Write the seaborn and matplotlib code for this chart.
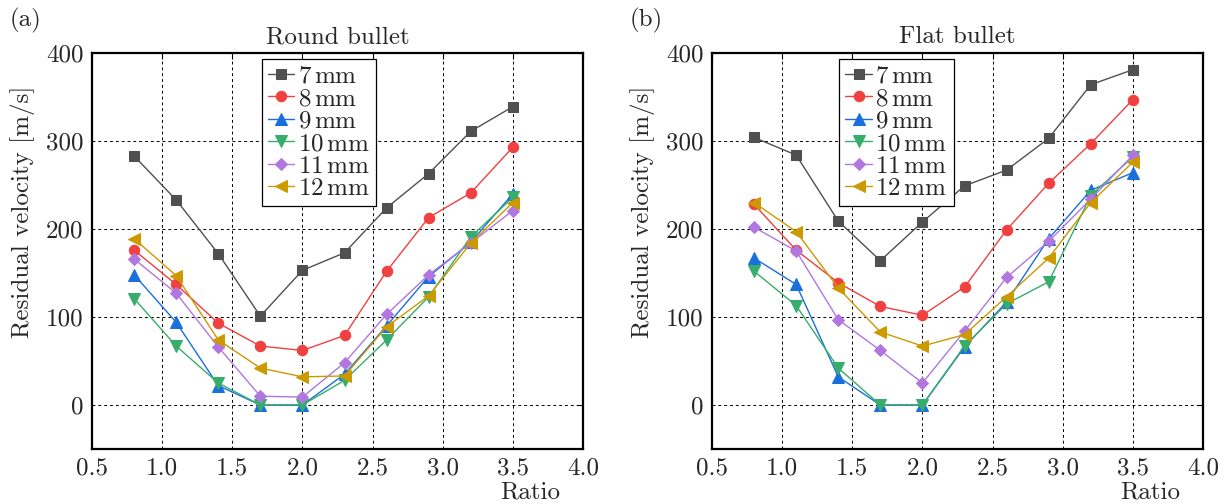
import matplotlib
matplotlib.use("Agg")
import matplotlib.pyplot as plt
import seaborn as sns
import numpy as np
import pandas as pd

ratio = [0.8, 1.1, 1.4, 1.7, 2.0, 2.3, 2.6, 2.9, 3.2, 3.5]
labels = ["7$\\,$mm", "8$\\,$mm", "9$\\,$mm", "10$\\,$mm", "11$\\,$mm", "12$\\,$mm"]

round_7 = [283, 233, 172, 101, 153, 173, 224, 263, 311, 339]
round_8 = [176, 137, 93, 67, 62, 79, 152, 213, 241, 293]
round_9 = [148, 94, 22, 0, 0, 35, 90, 146, 185, 240]
round_10 = [121, 67, 25, 0, 0, 28, 74, 123, 191, 236]
round_11 = [166, 127, 66, 10, 9, 48, 103, 148, 184, 221]
round_12 = [189, 147, 74, 42, 32, 33, 89, 124, 184, 230]

flat_7 = [304, 284, 209, 164, 208, 249, 267, 303, 364, 381]
flat_8 = [228, 176, 139, 112, 102, 134, 199, 252, 297, 347]
flat_9 = [167, 137, 32, 0, 0, 66, 117, 189, 244, 264]
flat_10 = [152, 113, 42, 0, 0, 67, 115, 140, 238, 282]
flat_11 = [202, 175, 97, 62, 25, 84, 145, 186, 234, 284]
flat_12 = [230, 197, 133, 83, 67, 80, 123, 167, 230, 276]

round_series = [round_7, round_8, round_9, round_10, round_11, round_12]
flat_series = [flat_7, flat_8, flat_9, flat_10, flat_11, flat_12]

colors = ["#505050", "#f14040", "#1a6fdf", "#37ad6b", "#b177de", "#cc9900"]
markers = ["s", "o", "^", "v", "D", "<"]
msizes = [7, 7.5, 8, 8, 6.5, 8]

sns.set_theme(style="white")
plt.rcParams["font.family"] = ["cmr10", "DejaVu Serif"]
plt.rcParams["mathtext.fontset"] = "cm"
plt.rcParams["axes.formatter.use_mathtext"] = True
plt.rcParams["axes.unicode_minus"] = False

fig = plt.figure(figsize=(12.28, 5.04), dpi=100)
ax1 = fig.add_axes([92/1228, 55/504, 491/1228, 396/504])
ax2 = fig.add_axes([712/1228, 55/504, 491/1228, 396/504])

FS = 18

def draw(ax, series, title, leg_x):
    for vals, lab, c, m, ms in zip(series, labels, colors, markers, msizes):
        df = pd.DataFrame({"Ratio": ratio, "v": vals})
        sns.lineplot(data=df, x="Ratio", y="v", ax=ax, color=c, marker=m,
                     markersize=ms, markeredgecolor=c, linewidth=1.0,
                     label=lab, zorder=3)
    ax.set_xlim(0.5, 4.0)
    ax.set_ylim(-50, 400)
    ax.set_xticks(np.arange(0.5, 4.01, 0.5))
    ax.set_xticklabels([f"{t:.1f}" for t in np.arange(0.5, 4.01, 0.5)])
    ax.set_yticks([0, 100, 200, 300, 400])
    ax.set_yticklabels(["0", "100", "200", "300", "400"])
    ax.tick_params(axis="both", direction="in", length=4, width=0.8,
                   top=True, right=True, labelsize=FS, color="black", pad=6)
    ax.grid(True, color="black", linestyle=(0, (3, 3)), linewidth=0.7)
    for s in ax.spines.values():
        s.set_color("black")
        s.set_linewidth(1.6)
    ax.set_title(title, fontsize=FS, pad=7)
    ax.set_xlabel("Ratio", fontsize=FS)
    ax.xaxis.set_label_coords(0.892, -0.083)
    ax.set_ylabel("Residual velocity [m/s]", fontsize=FS)
    ax.yaxis.set_label_coords(-0.117, 0.6)
    leg = ax.legend(loc="upper left", bbox_to_anchor=(leg_x, 0.985),
                    fontsize=FS, frameon=True, fancybox=False,
                    edgecolor="black", framealpha=1, labelspacing=0.0,
                    handlelength=1.05, handletextpad=0.15, borderpad=0.25,
                    borderaxespad=0)
    leg.get_frame().set_linewidth(0.9)

draw(ax1, round_series, "Round bullet", 0.346)
draw(ax2, flat_series, "Flat bullet", 0.259)

fig.text(10/1228, 1 - 20/504, "(a)", fontsize=FS, va="center", ha="left")
fig.text(630/1228, 1 - 20/504, "(b)", fontsize=FS, va="center", ha="left")

fig.savefig("out.png", dpi=100)
